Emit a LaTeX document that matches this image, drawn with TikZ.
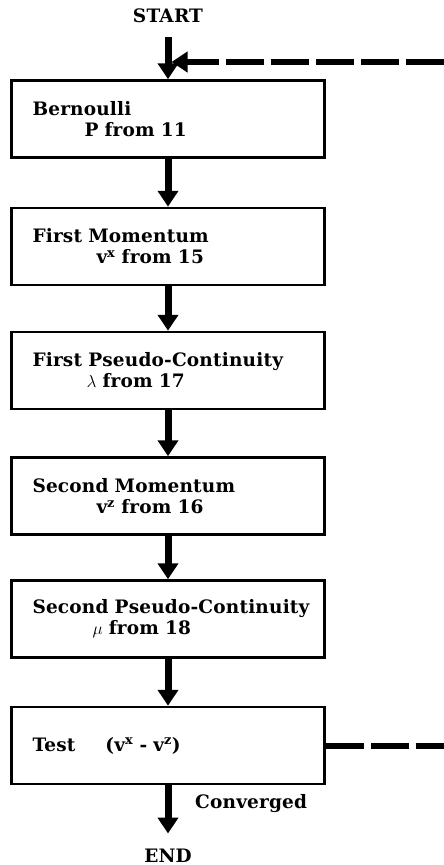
\documentclass[tikz,border=0pt]{standalone}
\usepackage{fontspec}
\setmainfont{DejaVu Serif}[LetterSpace=1]
\usetikzlibrary{arrows.meta, positioning}

\newcommand{\flowfont}{\fontsize{18.5}{21}\selectfont\bfseries}

\begin{document}
\begin{tikzpicture}[x=1pt, y=-1pt,
    box/.style={draw, line width=2.5pt, minimum width=313pt, minimum height=77pt,
      inner xsep=21pt, text width=271pt, align=left, font=\flowfont,
      execute at begin node={\hyphenpenalty=10000 \exhyphenpenalty=10000 }},
    terminal/.style={inner sep=0pt, outer ysep=15pt, font=\flowfont},
    flow/.style={line width=7pt, -{Triangle[width=20pt,length=16pt]}},
    loopback/.style={line width=6pt, dash pattern=on 38pt off 7pt,
      -{Triangle[width=20pt,length=16pt]}}]
        \useasboundingbox (0,0) rectangle (444,865);

        % Start and end
        \node[terminal, anchor=base] (start) at (168,22) {START};
        \node[terminal, anchor=base] (stop) at (168,862) {END};

        % Solution steps
        \node[box] (bern) at (168,119) {Bernoulli\\\hspace*{52pt}P from 11};
        \node[box] (mom1) at (168,246.5) {First Momentum\\\hspace*{64pt}v\textsuperscript{x} from 15};
        \node[box] (pc1) at (168,370.5) {First Pseudo-Continuity\\\hspace*{54pt}$\lambda$ from 17};
        \node[box] (mom2) at (168,496) {Second Momentum\\\hspace*{64pt}v\textsuperscript{z} from 16};
        \node[box] (pc2) at (168,619) {\mbox{Second Pseudo-Continuity}\\\hspace*{60pt}$\mu$ from 18};
        \node[box] (test) at (168,745.5) {Test\hspace{30pt}(v\textsuperscript{x} - v\textsuperscript{z})};

        % Main flow
        \draw[flow] (start) -- (bern);
        \foreach \a/\b in {bern/mom1, mom1/pc1, pc1/mom2, mom2/pc2, pc2/test, test/stop}
          \draw[flow] (\a) -- (\b);
        \node[font=\flowfont, anchor=base west, inner sep=0pt] (conv) at (195,808) {Converged};

        % Iteration loop
        \coordinate (turn) at (448,745.5);
        \coordinate (merge) at (171.5,62);
        \draw[loopback] (test) -- (turn) |- (merge);
\end{tikzpicture}
\end{document}
